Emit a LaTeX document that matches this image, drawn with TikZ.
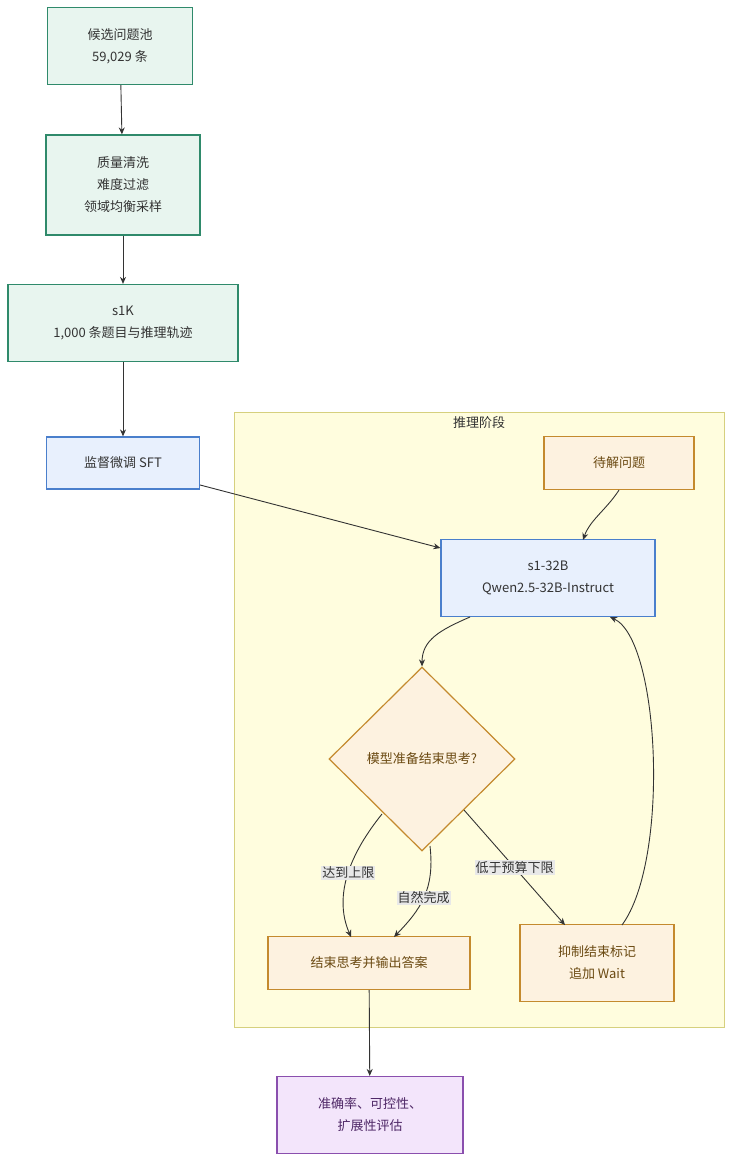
\documentclass[tikz,border=0pt]{standalone}
\usepackage{fontspec}
\setmainfont{Noto Sans CJK SC}
\usetikzlibrary{arrows.meta,shapes.geometric}
\definecolor{greenfill}{HTML}{E8F5EF}
\definecolor{greenline}{HTML}{2F8A6B}
\definecolor{bluefill}{HTML}{E8F0FD}
\definecolor{blueline}{HTML}{4A7FCC}
\definecolor{orangefill}{HTML}{FDF2E0}
\definecolor{orangeline}{HTML}{C48A2E}
\definecolor{purplefill}{HTML}{F3E5FB}
\definecolor{purpleline}{HTML}{8A4FAE}
\definecolor{clusterfill}{HTML}{FFFDDE}
\definecolor{clusterline}{HTML}{D6D07E}
\definecolor{txtgray}{HTML}{333333}
\definecolor{txtbrown}{HTML}{6B4A12}
\definecolor{txtpurple}{HTML}{4E2766}
\begin{document}
\begin{tikzpicture}[x=1pt,y=-1pt,font=\fontsize{13}{22}\selectfont]
\tikzstyle{box} = [draw,line width=1.2pt,rectangle,align=center,inner sep=0pt,text=txtgray]
\tikzstyle{databox} = [box,fill=greenfill,draw=greenline]
\tikzstyle{modelbox} = [box,fill=bluefill,draw=blueline]
\tikzstyle{procbox} = [box,fill=orangefill,draw=orangeline,text=txtbrown]
\tikzstyle{resultbox} = [box,fill=purplefill,draw=purpleline,text=txtpurple]
\tikzstyle{edge} = [draw=txtgray,line width=0.9pt,-{Stealth[length=7pt,width=6pt]}]
\tikzstyle{elabel} = [fill=gray!18,inner sep=1pt,text=txtgray]

\useasboundingbox (0,0) rectangle (740,1174);

\fill[clusterfill,draw=clusterline,line width=1pt] (234,412) rectangle (724,1027);
\node[text=txtgray] (phase) at (479,423) {推理阶段};

\node[databox,minimum width=145pt,minimum height=77pt] (pool) at (120,46) {候选问题池\\59,029 条};
\node[databox,minimum width=154pt,minimum height=100pt] (clean) at (123,185) {质量清洗\\难度过滤\\领域均衡采样};
\node[databox,minimum width=230pt,minimum height=77pt] (s1k) at (123,323) {s1K\\1,000 条题目与推理轨迹};
\node[modelbox,minimum width=153pt,minimum height=52pt] (sft) at (123,463) {监督微调 SFT};
\node[procbox,minimum width=150pt,minimum height=53pt] (question) at (619,463) {待解问题};
\node[modelbox,minimum width=214pt,minimum height=77pt] (s1) at (548,578) {s1-32B\\Qwen2.5-32B-Instruct};
\node[procbox,diamond,minimum width=186pt,minimum height=184pt,aspect=1] (think) at (422,759) {模型准备结束思考?};
\node[procbox,minimum width=202pt,minimum height=53pt] (finish) at (369,963) {结束思考并输出答案};
\node[procbox,minimum width=154pt,minimum height=77pt] (wait) at (597,963) {抑制结束标记\\追加 Wait};
\node[resultbox,minimum width=186pt,minimum height=77pt] (eval) at (370,1115) {准确率、可控性、\\扩展性评估};

\draw[edge] (pool) -- (clean);
\draw[edge] (clean) -- (s1k);
\draw[edge] (s1k) -- (sft);
\draw[edge] (sft.east |- 0,485) -- (s1.west |- 0,548);
\draw[edge] (question.south) .. controls (606,510) and (590,520) .. (583,540);
\draw[edge] (470,617) .. controls (440,630) and (422,640) .. (think.north);
\draw[edge] (382,814) .. controls (345,860) and (335,900) .. (351,937) node[elabel,pos=0.45] {达到上限};
\draw[edge] (430,846) .. controls (435,890) and (420,910) .. (394,937) node[elabel,pos=0.5] {自然完成};
\draw[edge] (464,810) -- (565,925) node[elabel,pos=0.5] {低于预算下限};
\draw[edge] (622,925) .. controls (670,860) and (660,640) .. (610,617);
\draw[edge] (finish) -- (eval);
\end{tikzpicture}
\end{document}
